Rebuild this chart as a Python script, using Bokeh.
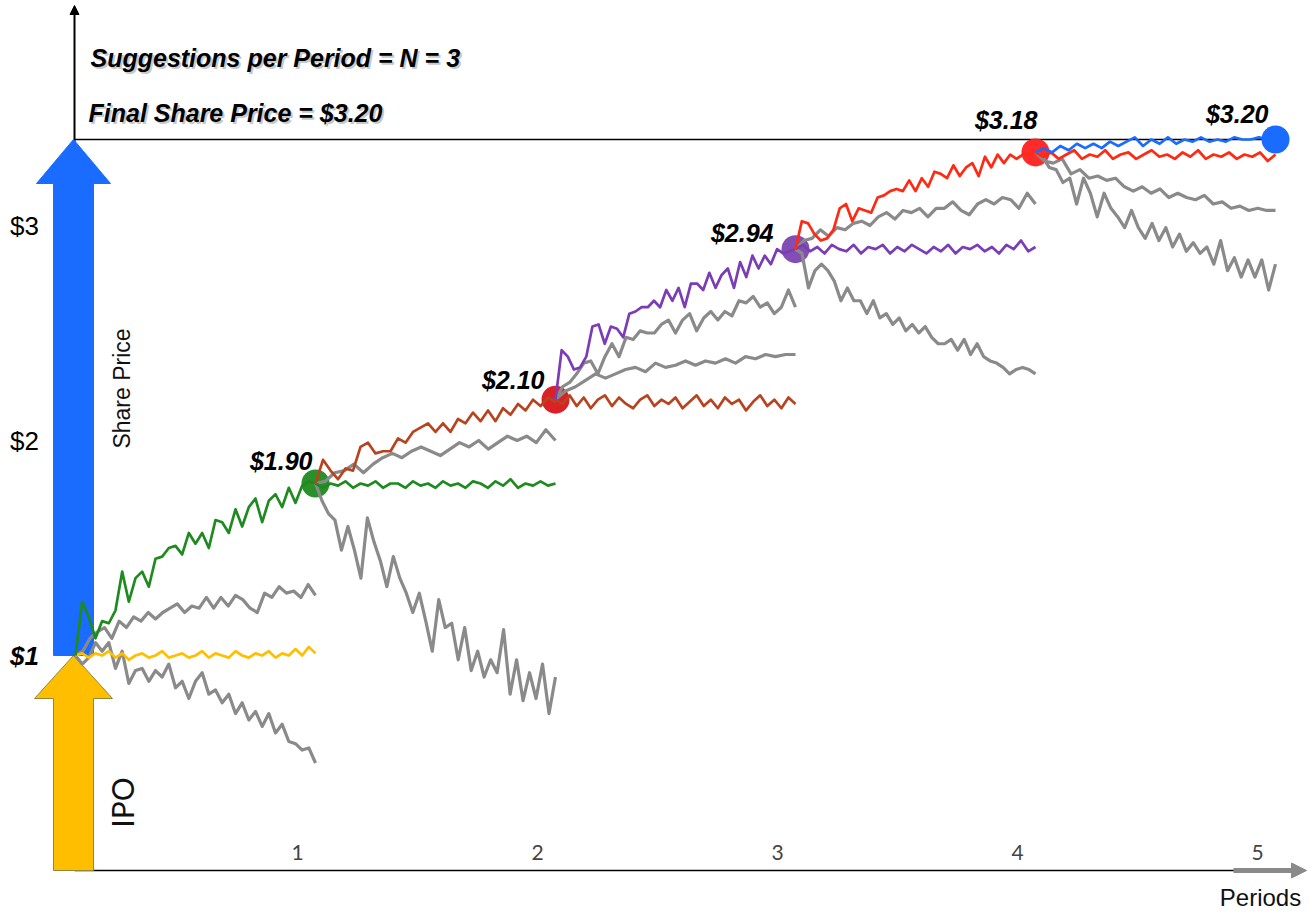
import numpy as np
from bokeh.plotting import figure
from bokeh.models import Range1d, Label, Arrow, NormalHead, ColumnDataSource
from bokeh.embed import file_html
from bokeh.resources import INLINE
from bokeh.core.properties import value

# ---------------- data ----------------
periods = [1, 2, 3, 4, 5]
period_labels = ["1", "2", "3", "4", "5"]
price_ticks = [1, 2, 3]
price_tick_labels = ["$1", "$2", "$3"]
ipo_price = 1.00
winner_end = [1.80, 2.19, 2.89, 3.34, 3.40]
winner_labels = ["$1.90", "$2.10", "$2.94", "$3.18", "$3.20"]
top_price = 3.40
title_1 = "Suggestions per Period = N = 3"
title_2 = "Final Share Price = $3.20"

# period 1
p1_winner = [1.00, 1.25, 1.18, 1.08, 1.16, 1.15, 1.21, 1.39, 1.25, 1.36, 1.39, 1.32, 1.45, 1.46, 1.50, 1.51, 1.47, 1.57, 1.52,
             1.57, 1.50, 1.63, 1.62, 1.57, 1.68, 1.60, 1.69, 1.73, 1.62, 1.72, 1.75, 1.69, 1.78, 1.71, 1.79, 1.81, 1.80]
p1_up = [1.00, 1.02, 1.08, 1.11, 1.13, 1.08, 1.16, 1.13, 1.18, 1.16, 1.20, 1.17, 1.20, 1.22, 1.24, 1.20, 1.23, 1.22, 1.27,
         1.22, 1.27, 1.23, 1.28, 1.26, 1.22, 1.20, 1.29, 1.27, 1.32, 1.29, 1.30, 1.27, 1.33, 1.28]
p1_hold = [1.00, 1.01, 0.99, 1.01, 1.00, 1.02, 0.99, 1.01, 0.98, 1.00, 1.01, 0.99, 1.00, 1.02, 0.99, 1.00, 1.01, 0.99, 1.00,
           1.02, 0.99, 1.01, 1.00, 0.99, 1.02, 1.00, 0.99, 1.01, 1.00, 1.02, 0.99, 1.01, 1.00, 1.03, 1.00, 1.04, 1.01]
p1_down = [1.00, 0.96, 0.99, 1.06, 1.02, 1.06, 0.94, 1.02, 0.87, 0.93, 0.94, 0.88, 0.93, 0.90, 0.96, 0.85, 0.88, 0.80, 0.88,
           0.92, 0.82, 0.84, 0.78, 0.82, 0.73, 0.78, 0.70, 0.74, 0.67, 0.73, 0.64, 0.68, 0.60, 0.59, 0.56, 0.57, 0.50]
# period 2
p2_winner = [1.80, 1.91, 1.86, 1.82, 1.87, 1.86, 1.97, 1.99, 1.94, 1.95, 1.95, 2.01, 1.99, 2.04, 2.06, 2.08, 2.04, 2.08, 2.04,
             2.10, 2.08, 2.13, 2.09, 2.14, 2.09, 2.15, 2.12, 2.17, 2.14, 2.19, 2.16, 2.20, 2.18]
p2_up = [1.80, 1.81, 1.85, 1.86, 1.89, 1.85, 1.89, 1.92, 1.94, 1.92, 1.95, 1.97, 1.95, 1.93, 1.96, 1.99, 1.97, 2.00, 1.96,
         1.99, 2.02, 2.00, 2.02, 1.99, 2.05, 2.00]
p2_hold = [1.80, 1.78, 1.80, 1.79, 1.81, 1.78, 1.80, 1.79, 1.81, 1.78, 1.80, 1.80, 1.78, 1.81, 1.79, 1.80, 1.78, 1.81, 1.79,
           1.80, 1.78, 1.81, 1.80, 1.78, 1.81, 1.79, 1.82, 1.78, 1.80, 1.79, 1.81, 1.79, 1.80]
p2_down = [1.80, 1.72, 1.66, 1.63, 1.49, 1.60, 1.49, 1.36, 1.64, 1.53, 1.44, 1.32, 1.46, 1.36, 1.29, 1.20, 1.29, 1.16, 1.02,
           1.26, 1.13, 1.15, 0.98, 1.13, 0.93, 1.02, 0.90, 0.98, 0.92, 1.12, 0.82, 0.98, 0.79, 0.92, 0.80, 0.96, 0.73, 0.90]
# period 3
p3_winner = [2.19, 2.42, 2.39, 2.33, 2.34, 2.39, 2.53, 2.54, 2.45, 2.53, 2.52, 2.48, 2.59, 2.60, 2.62, 2.62, 2.65, 2.62, 2.70,
             2.65, 2.71, 2.62, 2.73, 2.73, 2.70, 2.78, 2.71, 2.77, 2.80, 2.71, 2.83, 2.76, 2.86, 2.80, 2.86, 2.82, 2.89, 2.87,
             2.88, 2.89]
p3_up = [2.19, 2.25, 2.27, 2.31, 2.36, 2.37, 2.31, 2.39, 2.45, 2.39, 2.48, 2.47, 2.51, 2.50, 2.50, 2.54, 2.56, 2.50, 2.56,
         2.59, 2.51, 2.57, 2.60, 2.56, 2.60, 2.58, 2.65, 2.64, 2.67, 2.62, 2.64, 2.59, 2.62, 2.70, 2.62]
p3_mid = [2.19, 2.23, 2.25, 2.28, 2.31, 2.29, 2.31, 2.33, 2.34, 2.32, 2.36, 2.34, 2.35, 2.37, 2.35, 2.37, 2.36, 2.38, 2.36,
          2.39, 2.38, 2.40, 2.39, 2.40, 2.40]
p3_hold = [2.19, 2.17, 2.21, 2.16, 2.20, 2.15, 2.19, 2.21, 2.16, 2.20, 2.17, 2.15, 2.19, 2.21, 2.16, 2.19, 2.17, 2.20, 2.15,
           2.18, 2.21, 2.16, 2.19, 2.15, 2.20, 2.17, 2.19, 2.14, 2.18, 2.21, 2.16, 2.19, 2.15, 2.20, 2.17]
# period 4
p4_winner = [2.89, 3.02, 3.01, 2.96, 2.93, 2.94, 2.98, 3.08, 3.10, 3.02, 3.08, 3.07, 3.06, 3.13, 3.14, 3.16, 3.17, 3.16, 3.21,
             3.16, 3.22, 3.18, 3.25, 3.24, 3.22, 3.28, 3.23, 3.27, 3.29, 3.23, 3.32, 3.27, 3.33, 3.29, 3.33, 3.31, 3.33, 3.33,
             3.34]
p4_up = [2.89, 2.93, 2.94, 2.98, 2.95, 2.99, 2.98, 3.01, 3.02, 3.00, 3.04, 3.06, 3.03, 3.07, 3.06, 3.08, 3.04, 3.08, 3.08,
         3.11, 3.07, 3.05, 3.10, 3.12, 3.10, 3.13, 3.12, 3.08, 3.15, 3.10]
p4_hold = [2.89, 2.91, 2.88, 2.90, 2.87, 2.91, 2.89, 2.88, 2.91, 2.87, 2.90, 2.89, 2.91, 2.87, 2.90, 2.88, 2.91, 2.89, 2.87,
           2.90, 2.88, 2.91, 2.87, 2.90, 2.89, 2.91, 2.88, 2.90, 2.87, 2.91, 2.89, 2.93, 2.88, 2.90]
p4_down = [2.89, 2.87, 2.71, 2.79, 2.82, 2.79, 2.74, 2.65, 2.71, 2.65, 2.65, 2.59, 2.65, 2.57, 2.59, 2.54, 2.57, 2.51, 2.54,
           2.50, 2.53, 2.48, 2.45, 2.45, 2.47, 2.42, 2.47, 2.40, 2.45, 2.39, 2.37, 2.36, 2.34, 2.31, 2.33, 2.34, 2.33, 2.31]
# period 5
p5_winner = [3.34, 3.36, 3.34, 3.37, 3.35, 3.38, 3.36, 3.38, 3.36, 3.39, 3.37, 3.39, 3.41, 3.37, 3.40, 3.38, 3.41, 3.38, 3.40,
             3.39, 3.41, 3.39, 3.40, 3.39, 3.41, 3.40, 3.40, 3.41, 3.40, 3.40]
p5_hold = [3.34, 3.32, 3.34, 3.31, 3.33, 3.35, 3.31, 3.33, 3.32, 3.35, 3.31, 3.33, 3.34, 3.31, 3.33, 3.35, 3.32, 3.33, 3.31,
           3.34, 3.32, 3.35, 3.31, 3.33, 3.32, 3.34, 3.31, 3.33, 3.32, 3.34, 3.30, 3.33]
p5_up = [3.34, 3.30, 3.29, 3.31, 3.24, 3.26, 3.22, 3.23, 3.21, 3.22, 3.18, 3.16, 3.18, 3.15, 3.17, 3.13, 3.15, 3.13, 3.12,
         3.14, 3.10, 3.11, 3.08, 3.09, 3.07, 3.08, 3.07, 3.07]
p5_down = [3.34, 3.32, 3.27, 3.26, 3.20, 3.22, 3.10, 3.22, 3.15, 3.04, 3.15, 3.08, 3.04, 2.99, 3.07, 2.99, 2.94, 3.01, 2.93,
           2.99, 2.90, 2.96, 2.88, 2.92, 2.87, 2.90, 2.82, 2.93, 2.79, 2.85, 2.76, 2.84, 2.76, 2.84, 2.70, 2.82]

# ---------------- styling ----------------
W, H = 1309, 913
PX0, PXP = 75.0, 240.0    # pixel of period 0, pixels per period
PY0, PYD = 870.0, 215.0   # pixel of price 0, pixels per dollar


def X(px):
    return (px - PX0) / PXP


def Y(py):
    return (PY0 - py) / PYD


GRAY = "#8a8a8a"
YELLOW = "#ffbf00"
winner_colors = ["#1f8a1f", "#b8431f", "#7a3db5", "#ff2a14", "#1a6bff"]
hold_colors = [YELLOW] + winner_colors[:-1]
dot_colors = ["#1f8a1f", "#d9141a", "#7b45b0", "#ff1f1f", "#1a6bff"]
label_dx = [-3, -11, -22, 2, -7]
label_dy = [-23, -20, -16, -32, -26]
SANS = "Liberation Sans"
GEO = "Lato"

p = figure(width=W, height=H, x_range=Range1d(X(0), X(W)), y_range=Range1d(Y(H), Y(0)),
           output_backend="svg", toolbar_location=None, min_border=0,
           x_axis_type=None, y_axis_type=None)
p.outline_line_color = None
p.background_fill_color = "white"
p.border_fill_color = "white"

axis_x = X(74)

# axes
p.add_layout(Arrow(x_start=axis_x, y_start=0, x_end=axis_x, y_end=Y(5), line_color="black", line_width=2,
                   end=NormalHead(size=9, fill_color="black", line_color="black"), level="underlay"))
p.segment(x0=[axis_x], y0=[0], x1=[X(1235)], y1=[0], line_color="black", line_width=1.5)
p.add_layout(Arrow(x_start=X(1233), y_start=0, x_end=X(1306), y_end=0, line_color=GRAY, line_width=5,
                   end=NormalHead(size=15, fill_color=GRAY, line_color=GRAY)))
# top reference line
p.line([axis_x, periods[-1]], [top_price, top_price], line_color="black", line_width=1.3)


# big arrows
def arrow_patch(y_bottom, y_tip, sw_px, hw_px, hh_px):
    cx = X(73)
    sw, hw, hh = sw_px / PXP, hw_px / PXP, hh_px / PYD
    base = y_tip - hh
    xs = [cx - sw, cx + sw, cx + sw, cx + hw, cx, cx - hw, cx - sw]
    ys = [y_bottom, y_bottom, base, base, y_tip, base, base]
    return xs, ys


xs, ys = arrow_patch(0, ipo_price, 20, 39, 43)
p.patch(xs, ys, fill_color=YELLOW, line_color="#8f8a3a", line_width=1)
xs, ys = arrow_patch(ipo_price, top_price, 20, 37, 44)
p.patch(xs, ys, fill_color="#1a6bff", line_color="#1a6bff", line_width=1)

# end-of-period dots (below lines)
dots = ColumnDataSource(dict(x=periods, y=winner_end, c=dot_colors, t=winner_labels, dx=label_dx, dy=label_dy))
p.scatter(x=periods[:-1], y=winner_end[:-1], size=28, fill_color=dot_colors[:-1], line_color=None, fill_alpha=0.95)

# price paths
period_series = [
    (p1_winner, p1_up, [p1_down], p1_hold),
    (p2_winner, p2_up, [p2_down], p2_hold),
    (p3_winner, p3_up, [p3_mid], p3_hold),
    (p4_winner, p4_up, [p4_down], p4_hold),
    (p5_winner, p5_up, [p5_down], p5_hold),
]
for k, (win, up, others, hold) in enumerate(period_series):
    per = periods[k]
    for g in [up] + others:
        p.line(np.linspace(per - 1, per, len(g)), g, line_color=GRAY, line_width=3.2, line_join="round")
    p.line(np.linspace(per - 1, per, len(hold)), hold, line_color=hold_colors[k], line_width=2.7, line_join="round")
    p.line(np.linspace(per - 1, per, len(win)), win, line_color=winner_colors[k], line_width=2.7, line_join="round")

p.scatter(x=periods[-1:], y=winner_end[-1:], size=28, fill_color=dot_colors[-1], line_color=None)

# dot price labels (with soft shadow)
p.text(x="x", y="y", text="t", source=dots, x_offset="dx", y_offset="dy", text_align="right",
       text_baseline="middle", text_font=value(SANS), text_font_style="bold italic",
       text_font_size="25px", text_color="#9a9a9a", text_alpha=0.55)
p.text(x="x", y="y", text="t", source=dots, x_offset="dx", y_offset="dy", text_align="right",
       text_baseline="middle", text_font=value(SANS), text_font_style="bold italic",
       text_font_size="25px", text_color="black")

# y tick labels
ysrc = ColumnDataSource(dict(y=price_ticks, t=price_tick_labels, st=["bold italic", "normal", "normal"]))
p.text(x=X(24), y="y", text="t", source=ysrc, text_align="center", text_baseline="middle",
       text_font=value(SANS), text_font_style="st", text_font_size="26px", text_color="black")

# x tick labels
xsrc = ColumnDataSource(dict(x=periods, y=[0] * len(periods), t=period_labels))
p.text(x="x", y="y", text="t", source=xsrc, x_offset=-18, y_offset=-18, text_align="center",
       text_baseline="middle", text_font=value(GEO), text_font_size="21px", text_color="#444444")


# titles with shadow
def shadowed(px, py, text):
    p.add_layout(Label(x=X(px + 2), y=Y(py + 2), text=text, text_font=SANS, text_font_style="bold italic",
                       text_font_size="25px", text_baseline="middle", text_align="left",
                       text_color="#9a9a9a", text_alpha=0.55))
    p.add_layout(Label(x=X(px), y=Y(py), text=text, text_font=SANS, text_font_style="bold italic",
                       text_font_size="25px", text_baseline="middle", text_align="left", text_color="black"))


shadowed(90, 57, title_1)
shadowed(88, 112, title_2)

p.add_layout(Label(x=X(121), y=Y(388), text="Share Price", angle=np.pi / 2, text_font=SANS,
                   text_font_size="23px", text_align="center", text_baseline="middle", text_color="#111111"))
p.add_layout(Label(x=X(121), y=Y(802), text="IPO", angle=np.pi / 2, text_font=GEO,
                   text_font_size="30px", text_align="center", text_baseline="middle", text_color="#111111"))
p.add_layout(Label(x=X(1260), y=Y(897), text="Periods", text_font=SANS,
                   text_font_size="24px", text_align="center", text_baseline="middle", text_color="#111111"))

open("out.html", "w").write(file_html(p, INLINE))
